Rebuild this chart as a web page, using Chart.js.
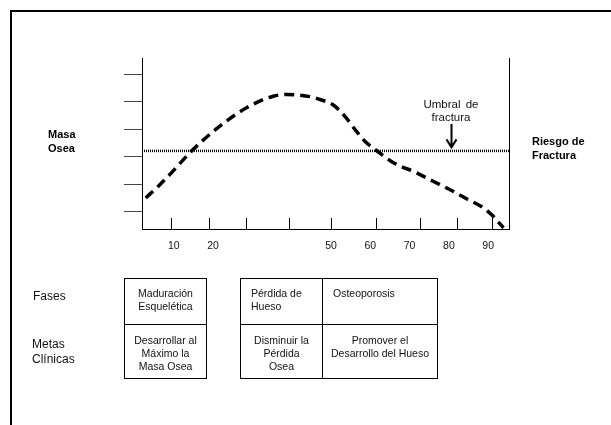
<!DOCTYPE html>
<html>
<head>
<meta charset="utf-8">
<script src="https://cdn.jsdelivr.net/npm/chart.js@4.4.1/dist/chart.umd.min.js"></script>
<style>
  html, body { margin: 0; padding: 0; background: #fff; }
  body { width: 611px; height: 425px; position: relative; overflow: hidden;
         font-family: "Liberation Sans", Arial, sans-serif; color: #111; }
  #wrap { position: absolute; left: 0; top: 0; width: 611px; height: 425px; }
  .frame { position: absolute; left: 10px; top: 10px; width: 620px; height: 430px;
           border-left: 2px solid #000; border-top: 2px solid #000; }
  .lbl { position: absolute; white-space: nowrap; }
  .bold { font-weight: bold; font-size: 11px; line-height: 14px; color: #000; }
  .side { font-size: 12px; line-height: 15px; }
  .cell { position: absolute; box-sizing: border-box; border: 1px solid #000;
          font-size: 10.5px; white-space: nowrap; }
  .r1 { top: 278px; height: 47px; line-height: 12.5px; padding-top: 8px; }
  .r2 { top: 324px; height: 55px; line-height: 13px; padding-top: 8.5px; text-align: center; }
  .c { text-align: center; }
</style>
</head>
<body>
<div class="frame"></div>
<div id="wrap"><canvas id="chart"></canvas></div>

<div class="lbl bold" style="left:48px; top:127px;">Masa<br>Osea</div>
<div class="lbl bold" style="left:532px; top:133.5px;">Riesgo de<br>Fractura</div>
<div class="lbl" style="left:451px; top:98px; transform:translateX(-50%); text-align:center; font-size:11.5px; line-height:13.3px; word-spacing:2px;">Umbral de<br>fractura</div>

<div class="lbl side" style="left:33px; top:289px;">Fases</div>
<div class="lbl side" style="left:32px; top:336.5px;">Metas<br>Clínicas</div>

<div class="cell r1 c" style="left:124px; width:83px;">Maduración<br>Esquelética</div>
<div class="cell r2" style="left:124px; width:83px;">Desarrollar al<br>Máximo la<br>Masa Osea</div>

<div class="cell r1" style="left:240px; width:83px; padding-left:10px;">Pérdida de<br>Hueso</div>
<div class="cell r1" style="left:322px; width:116px; padding-left:10px;">Osteoporosis</div>
<div class="cell r2" style="left:240px; width:83px;">Disminuir la<br>Pérdida<br>Osea</div>
<div class="cell r2" style="left:322px; width:116px;">Promover el<br>Desarrollo del Hueso</div>

<script>
// axis ranges (age in years, bone mass in arbitrary units)
const ageMin = 1.9, ageMax = 95.3;
const massMin = 0.38, massMax = 6.6;
const massTicks = [1, 2, 3, 4, 5, 6];
const ageTickMarks = [9.5, 19, 28.5, 39.4, 50.2, 61.6, 72.7, 82.3, 91.1];
const ageLabels = [10, 20, 50, 60, 70, 80, 90];

// bone mass curve
const curveAges = [2.85, 6.0, 8.97, 14.9, 21.7, 28.5, 35.3, 38.7, 42.1, 45.5, 47.2, 50.5, 53.6, 56.1, 58.7, 62.0, 65.8, 71.8, 76.1, 80.3, 84.6, 88.8, 91.3, 93.9];
const curveMass = [1.51, 1.93, 2.36, 3.27, 4.12, 4.79, 5.21, 5.27, 5.25, 5.17, 5.09, 4.90, 4.47, 4.00, 3.56, 3.19, 2.80, 2.42, 2.11, 1.81, 1.47, 1.15, 0.84, 0.42];

const fractureThreshold = 3.22;
const arrowAge = 80.5, arrowTop = 4.2, arrowTip = 3.35;

const FONT = '"Liberation Sans", Arial, sans-serif';

const arrowPlugin = {
  id: 'umbralArrow',
  afterDatasetsDraw(chart) {
    const { ctx, scales: { x, y } } = chart;
    const px = Math.round(x.getPixelForValue(arrowAge)) + 0.5;
    const top = y.getPixelForValue(arrowTop);
    const tip = y.getPixelForValue(arrowTip);
    ctx.save();
    ctx.strokeStyle = '#000';
    ctx.lineWidth = 2;
    ctx.beginPath();
    ctx.moveTo(px, top);
    ctx.lineTo(px, tip);
    ctx.moveTo(px - 5, tip - 8);
    ctx.lineTo(px, tip);
    ctx.lineTo(px + 5, tip - 8);
    ctx.stroke();
    ctx.restore();
  }
};

new Chart(document.getElementById('chart'), {
  type: 'line',
  data: {
    datasets: [{
      label: 'Masa Osea',
      data: curveAges.map((a, i) => ({ x: a, y: curveMass[i] })),
      borderColor: '#000',
      borderWidth: 3.5,
      borderDash: [10, 6],
      borderCapStyle: 'butt',
      cubicInterpolationMode: 'monotone',
      pointRadius: 0,
      fill: false,
    }, {
      label: 'Umbral de fractura',
      data: [{ x: ageMin, y: fractureThreshold }, { x: ageMax, y: fractureThreshold }],
      borderColor: '#000',
      borderWidth: 2.5,
      borderDash: [1, 1],
      pointRadius: 0,
      fill: false,
    }]
  },
  options: {
    responsive: true, maintainAspectRatio: false,
    animation: false, events: [],
    layout: { padding: { left: 124, right: 102, top: 58, bottom: 166 } },
    scales: {
      x: {
        type: 'linear', position: 'bottom', min: ageMin, max: ageMax,
        afterBuildTicks: s => { s.ticks = ageLabels.map(v => ({ value: v })); },
        afterFit: s => { s.height = 30; },
        grid: { display: false },
        border: { display: true, color: '#000', width: 1 },
        ticks: { padding: 3, color: '#111', autoSkip: false, maxRotation: 0,
                 font: { family: FONT, size: 10.5 }, callback: v => String(v) }
      },
      xt: {
        type: 'linear', position: { y: massMin }, min: ageMin, max: ageMax,
        afterBuildTicks: s => { s.ticks = ageTickMarks.map(v => ({ value: v })); },
        grid: { display: true, drawOnChartArea: false, drawTicks: true, tickLength: -11, color: '#000', lineWidth: 1 },
        border: { display: false },
        ticks: { display: false }
      },
      y: {
        type: 'linear', position: 'left', min: massMin, max: massMax,
        afterBuildTicks: s => { s.ticks = massTicks.map(v => ({ value: v })); },
        afterFit: s => { s.width = 18; },
        grid: { drawOnChartArea: false, tickLength: 18, color: '#444', lineWidth: 1 },
        border: { display: true, color: '#000', width: 1 },
        ticks: { display: false }
      },
      yR: {
        type: 'linear', position: 'right', min: massMin, max: massMax,
        afterFit: s => { s.width = 0; },
        grid: { display: false },
        border: { display: true, color: '#000', width: 1 },
        ticks: { display: false }
      }
    },
    plugins: { legend: { display: false }, tooltip: { enabled: false } }
  },
  plugins: [arrowPlugin]
});
</script>
</body>
</html>
